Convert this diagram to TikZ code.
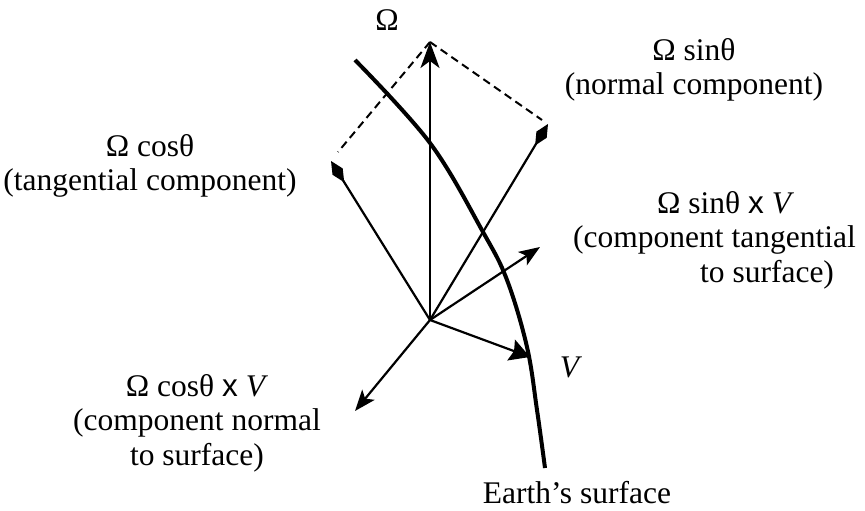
\documentclass[tikz,border=0pt]{standalone}
\usepackage{fontspec}
\setmainfont{Liberation Serif}
\newfontfamily\xsans{Liberation Sans}
\usetikzlibrary{arrows.meta}
\begin{document}
\begin{tikzpicture}[x=1pt,y=-1pt,
  lbl/.style={align=center,font=\fontsize{31.5}{34.5}\selectfont,inner sep=0pt},
  vec/.style={line width=2.2pt,-{Stealth[length=21pt,width=16pt,inset=5pt]}},
  bigvec/.style={line width=2.3pt,-{Stealth[length=26pt,width=19pt,inset=7pt]}},
  vvec/.style={line width=2.2pt,-{Stealth[length=20pt,width=22pt,inset=3pt]}},
  comp/.style={line width=2.2pt,-{Kite[length=25pt,width=12pt,inset=12.5pt]}},
  surf/.style={line width=4pt},
  dsh/.style={line width=2pt,dash pattern=on 8pt off 5pt}]
\useasboundingbox (0,0) rectangle (865,511);
\coordinate (O) at (430,320);
\coordinate (W) at (430,42);
\coordinate (C) at (331,161);
\coordinate (S) at (548,124);
\coordinate (SV) at (540,247);
\coordinate (V) at (530,357);
\coordinate (CV) at (355,411);
\coordinate (Cd) at (338,152);
\coordinate (Sd) at (542,120);
\draw[surf] plot[smooth,tension=0.6] coordinates {(355,60) (430,143) (483,232) (507,280) (527,347) (537,410) (545,468)};
\draw[dsh] (W) -- (Cd);
\draw[dsh] (W) -- (Sd);
\draw[bigvec] (O) -- (W);
\draw[comp] (O) -- (C);
\draw[comp] (O) -- (S);
\draw[vec] (O) -- (SV);
\draw[vvec] (O) -- (V);
\draw[vec] (O) -- (CV);
\node[lbl] (lW) at (387,20) {Ω};
\node[lbl] (lS) at (694,70) {Ω sinθ\\(normal component)};
\node[lbl] (lC) at (150,166) {Ω cosθ\\(tangential component)};
\node[lbl,align=left,anchor=west] (lSV) at (573,240) {\hspace*{84pt}Ω sinθ {\xsans x} \textit{V}\\(component tangential\\\hspace*{127pt}to surface)};
\node[lbl] (lV) at (571,367) {\textit{V}};
\node[lbl] (lCV) at (197,423) {Ω cosθ {\xsans x} \textit{V}\\(component normal\\to surface)};
\node[lbl] (lE) at (577,493) {Earth’s surface};
\end{tikzpicture}
\end{document}
